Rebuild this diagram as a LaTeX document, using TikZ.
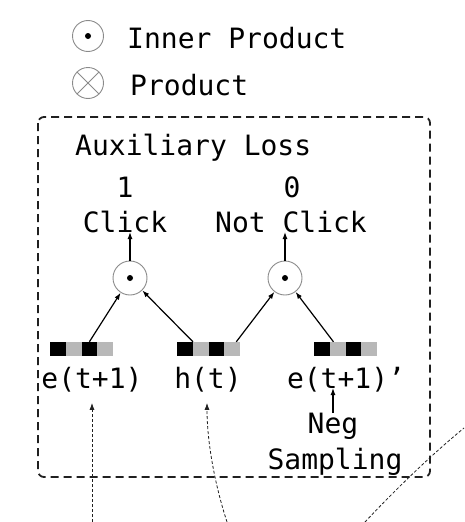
\documentclass[tikz,border=0pt]{standalone}
\usepackage{fontspec}
\setmonofont{DejaVu Sans Mono}
\usepackage{xcolor}
\usetikzlibrary{arrows.meta, positioning, calc}

\definecolor{cellgray}{HTML}{B8B8B8}
\definecolor{ringgray}{HTML}{8A8A8A}

\tikzset{
  lbl/.style={font=\ttfamily\fontsize{28}{30}\selectfont, inner sep=0pt, anchor=base},
  cell/.style={minimum width=15.75pt, minimum height=14pt, inner sep=0pt},
  dotop/.style={circle, draw=ringgray, line width=0.9pt, minimum size=#1, inner sep=0pt,
    path picture={\fill (path picture bounding box.center) circle (3pt);}},
  crossop/.style={circle, draw=ringgray, line width=0.9pt, minimum size=#1, inner sep=0pt,
    path picture={\draw[ringgray, line width=0.9pt]
      (path picture bounding box.north west) -- (path picture bounding box.south east)
      (path picture bounding box.north east) -- (path picture bounding box.south west);}},
  arr/.style={line width=1.2pt, -{Latex[length=7pt, width=5pt]}},
  feed/.style={line width=0.8pt, gray!25!black, dash pattern=on 3pt off 2pt,
    -{Latex[length=7pt, width=5pt]}, shorten >=11pt},
  auxbox/.style={line width=1.8pt, gray!25!black, dash pattern=on 8pt off 5pt, rounded corners=6pt}
}

\begin{document}
\begin{tikzpicture}[x=1pt, y=-1pt]
  \useasboundingbox (0,0) rectangle (464,522);

  % Legend
  \node[dotop=31pt] (leg1) at (88,36) {};
  \node[lbl, anchor=base west] (legt1) at (127,48) {Inner Product};
  \node[crossop=31pt] (leg2) at (88,83) {};
  \node[lbl, anchor=base west] (legt2) at (130,95) {Product};

  % Auxiliary loss box
  \draw[auxbox] (38,117) rectangle (430,477);
  \node[lbl, anchor=base west] (auxt) at (75,155) {Auxiliary Loss};

  % Targets
  \node[lbl] (one) at (125,197) {1};
  \node[lbl] (zero) at (292,197) {0};
  \node[lbl] (click) at (125,232) {Click};
  \node[lbl] (nclick) at (291,232) {Not Click};

  % Inner products
  \node[dotop=34pt] (ip1) at (130,278) {};
  \node[dotop=34pt] (ip2) at (285,278) {};

  % Embedding vectors
  \foreach \nm/\xs in {ea/50, ht/177, en/314} {
    \foreach \i/\c in {0/black, 1/cellgray, 2/black, 3/cellgray}
      \node[cell, fill=\c] (\nm\i) at (\xs+\i*15.75+7.875, 349) {};
  }

  \node[lbl] (eat) at (92,388) {e(t+1)};
  \node[lbl] (htt) at (208,388) {h(t)};
  \node[lbl] (ent) at (346,388) {e(t+1)’};

  \node[lbl] (neg) at (333,433) {Neg};
  \node[lbl] (samp) at (335,469) {Sampling};

  % Arrows into the products
  \draw[arr] (ea2.north) -- (ip1);
  \draw[arr] (ht0.north east) -- (ip1);
  \draw[arr] (ht3.60) -- (ip2);
  \draw[arr] (en1.120) -- (ip2);

  % Arrows to the targets
  \draw[arr] (ip1) -- (ip1 |- click.base);
  \draw[arr] (ip2) -- (ip2 |- nclick.base);
  \draw[arr] ([yshift=20pt]neg.base) -- (neg.base |- ent.base);

  % Inputs from below
  \coordinate (src1) at (92,522);
  \coordinate (src2) at (227,522);
  \coordinate (arcs) at (365,522);
  \coordinate (arce) at (464,428);
  \draw[feed] (src1) -- (src1 |- eat.south);
  \draw[feed] (src2) .. controls (214,482) and (207,440) .. ([xshift=-1pt]htt.south);
  \draw[line width=0.8pt, gray!25!black, dash pattern=on 3pt off 2pt]
    (arcs) .. controls (395,490) and (430,456) .. (arce);
\end{tikzpicture}
\end{document}
